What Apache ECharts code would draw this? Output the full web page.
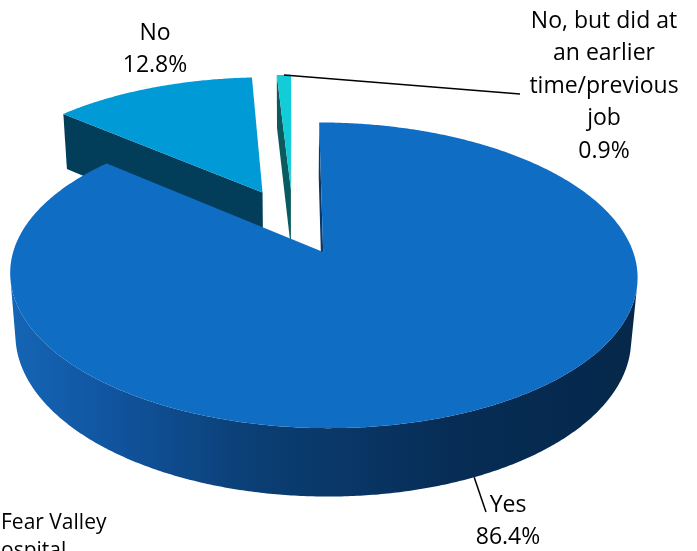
<!DOCTYPE html>
<html>
<head>
<meta charset="utf-8">
<script src="https://cdn.jsdelivr.net/npm/echarts@6.0.0/dist/echarts.min.js"></script>
<style>
  html, body { margin: 0; padding: 0; background: #ffffff; }
  #chart { width: 697px; height: 551px; }
</style>
</head>
<body>
<div id="chart"></div>
<script>
// Survey answers, clockwise from 12 o'clock
const categories = ['Yes', 'No', 'No, but did at an earlier time/previous job'];
const labelLines = [['Yes'], ['No'], ['No, but did at', 'an earlier', 'time/previous', 'job']];
const percentages = [86.4, 12.8, 0.9];

// Colours of the top faces and of the cut walls
const topColors = ['#0F6DC4', '#009BD6', '#13CCD7'];
const wallColors = ['#0A3766', '#023E5A', '#0A5A5F'];

// 3D view of the exploded pie (perspective camera looking down on a disk)
const view = {
  cx: 292.8, cy: 221.1, k: 310,
  tilt: 27.8 * Math.PI / 180,
  dist: 5.8, d0: 0.189,
  thickness: 0.23,
  explode: 0.235
};

// Label placement (text block centre x / top y, and leader elbow)
const labelLayout = [
  { x: 508, y: 489, leader: [486, 512], fromBottom: true },
  { x: 155, y: 17, leader: null },
  { x: 604, y: 5, leader: [520, 94], fromBottom: false }
];

const ct = Math.cos(view.tilt), st = Math.sin(view.tilt);
const cam = [0, -(view.dist + view.d0) * ct, (view.dist + view.d0) * st];

function project(X, Y, Z) {
  const depth = view.d0 + Y * ct - Z * st;
  const s = view.dist / (view.dist + depth);
  return [view.cx + view.k * X * s, view.cy - view.k * (Y * st + Z * ct) * s];
}

const total = percentages.reduce((a, b) => a + b, 0);
const slices = [];
let acc = 0;
percentages.forEach((v, i) => {
  const a0 = acc / total * Math.PI * 2;
  acc += v;
  const a1 = acc / total * Math.PI * 2;
  const mid = (a0 + a1) / 2;
  slices.push({
    a0, a1, mid,
    ox: view.explode * Math.sin(mid),
    oy: view.explode * Math.cos(mid)
  });
});

// back-to-front drawing rank (farther apex drawn first)
const order = slices.map((s, i) => i).sort((a, b) => slices[b].oy - slices[a].oy);
const rank = [];
order.forEach((idx, r) => { rank[idx] = r; });

const sideGradient = new echarts.graphic.LinearGradient(13, 0, 637, 0, [
  { offset: 0, color: '#1565B5' },
  { offset: 0.14, color: '#1156A2' },
  { offset: 0.38, color: '#0B3F75' },
  { offset: 0.7, color: '#072D56' },
  { offset: 1, color: '#05284A' }
], true);

function renderItem(params, api) {
  const i = params.dataIndex;
  const sl = slices[i];
  const H = view.thickness;
  const z = rank[i] * 10;
  const children = [];
  const rimPt = (a, Z) => project(sl.ox + Math.sin(a), sl.oy + Math.cos(a), Z);
  const apexTop = project(sl.ox, sl.oy, 0);
  const apexBot = project(sl.ox, sl.oy, -H);

  // radial cut walls
  [[sl.a0, -1], [sl.a1, 1]].forEach(([a, sgn]) => {
    const nx = sgn * Math.cos(a), ny = -sgn * Math.sin(a);
    const vis = nx * (cam[0] - sl.ox) + ny * (cam[1] - sl.oy);
    if (vis > 0) {
      children.push({
        type: 'polygon', z2: z + 1,
        shape: { points: [apexTop, rimPt(a, 0), rimPt(a, -H), apexBot] },
        style: { fill: wallColors[i] }
      });
    }
  });

  // outer curved wall, only the parts facing the camera
  const step = 0.5 * Math.PI / 180;
  const n = Math.max(2, Math.ceil((sl.a1 - sl.a0) / step));
  let run = [];
  const flush = () => {
    if (run.length > 1) {
      const top = run.map(a => rimPt(a, 0));
      const bot = run.map(a => rimPt(a, -H)).reverse();
      children.push({
        type: 'polygon', z2: z + 2,
        shape: { points: top.concat(bot) },
        style: { fill: i === 0 ? sideGradient : wallColors[i] }
      });
    }
    run = [];
  };
  for (let j = 0; j <= n; j++) {
    const a = sl.a0 + (sl.a1 - sl.a0) * j / n;
    const px = sl.ox + Math.sin(a), py = sl.oy + Math.cos(a);
    const vis = Math.sin(a) * (cam[0] - px) + Math.cos(a) * (cam[1] - py);
    if (vis > 0) run.push(a); else flush();
  }
  flush();

  // top face
  const topPts = [apexTop];
  for (let j = 0; j <= n; j++) {
    topPts.push(rimPt(sl.a0 + (sl.a1 - sl.a0) * j / n, 0));
  }
  children.push({
    type: 'polygon', z2: z + 5,
    shape: { points: topPts },
    style: { fill: topColors[i] }
  });

  // data label with optional leader line
  const lay = labelLayout[i];
  if (lay.leader) {
    const start = rimPt(sl.mid, lay.fromBottom ? -H : 0);
    children.push({
      type: 'polyline', z2: 100,
      shape: { points: [start, lay.leader] },
      style: { stroke: '#000000', lineWidth: 1.5, fill: null }
    });
  }
  const text = labelLines[i].concat([api.value(0).toFixed(1) + '%']).join('\n');
  children.push({
    type: 'text', z2: 101,
    style: {
      text: text, x: lay.x, y: lay.y,
      fill: '#000000',
      font: '23px "Open Sans"',
      lineHeight: 32.5,
      align: 'center', verticalAlign: 'top',
      textAlign: 'center', textVerticalAlign: 'top'
    }
  });

  return { type: 'group', children: children };
}

const chart = echarts.init(document.getElementById('chart'), null, { renderer: 'canvas' });
chart.setOption({
  backgroundColor: '#ffffff',
  animation: false,
  series: [{
    type: 'custom',
    coordinateSystem: 'none',
    renderItem: renderItem,
    data: percentages.map((v, i) => ({ name: categories[i], value: v }))
  }],
  graphic: [{
    type: 'text', left: 1, top: 509,
    style: {
      text: 'Fear Valley\nospital',
      fill: '#000000',
      font: '21px "Open Sans"',
      lineHeight: 28
    }
  }]
});
</script>
</body>
</html>
